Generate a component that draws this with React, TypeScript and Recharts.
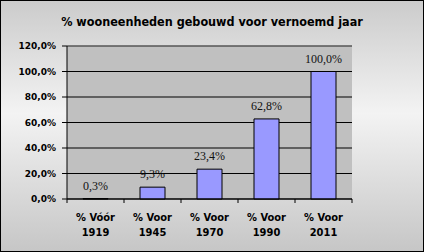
import React from 'react';
import { BarChart, Bar, XAxis, YAxis, CartesianGrid, LabelList, ReferenceLine } from 'recharts';

const categories = ['% Vóór 1919', '% Voor 1945', '% Voor 1970', '% Voor 1990', '% Voor 2011'];
const values = [0.3, 9.3, 23.4, 62.8, 100.0];
const yTicks = [0, 20, 40, 60, 80, 100, 120];
const title = '% wooneenheden gebouwd voor vernoemd jaar';

const data = categories.map((c, i) => ({ name: c, value: values[i] }));

const fmt = (v: number) => v.toFixed(1).replace('.', ',') + '%';

const BOLD_FONT = "'DejaVu Sans Condensed', 'DejaVu Sans', sans-serif";

const XTick = (props: any) => {
  const { x, y, payload, index } = props;
  const s: string = payload.value;
  const k = s.lastIndexOf(' ');
  const l1 = s.slice(0, k);
  const l2 = s.slice(k + 1);
  const half = payload.offset || 0;
  const isLast = index === categories.length - 1;
  return (
    <g>
      <line x1={x - half} x2={x - half} y1={y} y2={y + 4} stroke="#000" />
      {isLast && <line x1={x + half} x2={x + half} y1={y} y2={y + 4} stroke="#000" />}
      <text x={x} y={y} textAnchor="middle" fontFamily={BOLD_FONT} fontWeight="bold" fontSize={11} fill="#000">
        <tspan x={x} dy={22}>{l1}</tspan>
        <tspan x={x} dy={15}>{l2}</tspan>
      </text>
    </g>
  );
};

export default function App() {
  return (
    <div
      style={{
        position: 'absolute',
        left: 0,
        top: 0,
        width: 424,
        height: 252,
        background: 'linear-gradient(#cbcbcb 0%, #f3f3f3 45%, #c6c6c6 100%)',
        boxShadow: 'inset 0 0 0 1px #000',
      }}
    >
      <svg width={424} height={30} style={{ position: 'absolute', left: 0, top: 0 }}>
        <text x={212} y={26} textAnchor="middle" fontFamily={BOLD_FONT} fontWeight="bold" fontSize={12.5} fill="#000">
          {title}
        </text>
      </svg>
      <BarChart
        width={424}
        height={252}
        data={data}
        margin={{ top: 46, right: 72, bottom: 0, left: 0 }}
        style={{ position: 'absolute', left: 0, top: 0 }}
      >
        <CartesianGrid vertical={false} stroke="#000" fill="#c0c0c0" />
        <XAxis
          dataKey="name"
          height={53}
          tickLine={false}
          tickSize={0}
          tickMargin={0}
          axisLine={{ stroke: '#000' }}
          tick={<XTick />}
          interval={0}
        />
        <YAxis
          domain={[0, 120]}
          ticks={yTicks}
          width={67}
          tickFormatter={fmt}
          tickSize={5}
          tickMargin={6}
          tickLine={{ stroke: '#000' }}
          axisLine={{ stroke: '#000' }}
          tick={{ fontFamily: "'DejaVu Sans', sans-serif", fontWeight: 'bold', fontSize: 9, fill: '#000' }}
          interval={0}
        />
        <YAxis
          yAxisId="r"
          orientation="right"
          domain={[0, 120]}
          width={0}
          tick={false}
          tickLine={false}
          axisLine={{ stroke: '#808080' }}
        />
        <ReferenceLine y={120} stroke="#808080" />
        <Bar dataKey="value" fill="#9999ff" stroke="#000" strokeWidth={1} barSize={25} isAnimationActive={false}>
          <LabelList
            dataKey="value"
            position="top"
            offset={9}
            formatter={(v: any) => fmt(Number(v))}
            fill="#111"
            fontSize={12}
            fontFamily="'Liberation Serif', 'Times New Roman', serif"
          />
        </Bar>
      </BarChart>
    </div>
  );
}
